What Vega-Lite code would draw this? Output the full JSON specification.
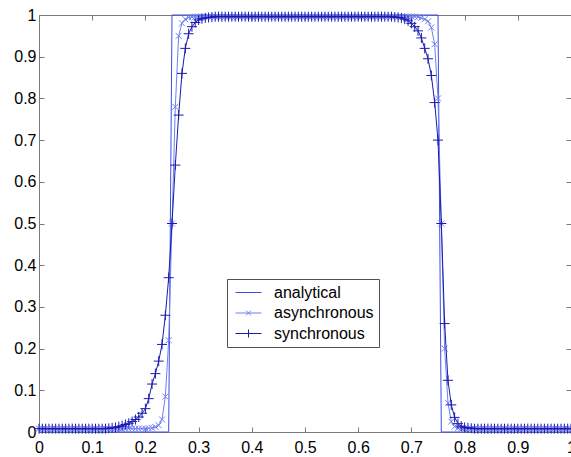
{
"$schema":"https://vega.github.io/schema/vega-lite/v6.json",
"width":532,"height":417,
"autosize":{"type":"none"},
"padding":{"left":39,"top":15,"right":0,"bottom":25},
"background":"white",
"config":{"font":"Liberation Sans","view":{"stroke":null},
 "axis":{"domainColor":"#7a7a7a","tickColor":"#7a7a7a","labelColor":"#000000","labelFont":"Liberation Sans","labelFontSize":16,"grid":false,"title":null,"labelFlush":false,"labelOverlap":false,"tickSize":-5,"format":"~g"}},
"datasets":{
"analytical":[{"x":0,"y":0},{"x":0.24375,"y":0},{"x":0.25,"y":1},{"x":0.75,"y":1},{"x":0.75625,"y":0},{"x":1,"y":0}],
"async":[{"x":0,"y":0.008},{"x":0.00625,"y":0.008},{"x":0.0125,"y":0.008},{"x":0.01875,"y":0.008},{"x":0.025,"y":0.008},{"x":0.03125,"y":0.008},{"x":0.0375,"y":0.008},{"x":0.04375,"y":0.008},{"x":0.05,"y":0.008},{"x":0.05625,"y":0.008},{"x":0.0625,"y":0.008},{"x":0.06875,"y":0.008},{"x":0.075,"y":0.008},{"x":0.08125,"y":0.008},{"x":0.0875,"y":0.008},{"x":0.09375,"y":0.008},{"x":0.1,"y":0.008},{"x":0.10625,"y":0.008},{"x":0.1125,"y":0.008},{"x":0.11875,"y":0.008},{"x":0.125,"y":0.008},{"x":0.13125,"y":0.008},{"x":0.1375,"y":0.008},{"x":0.14375,"y":0.008},{"x":0.15,"y":0.008},{"x":0.15625,"y":0.008},{"x":0.1625,"y":0.008},{"x":0.16875,"y":0.008},{"x":0.175,"y":0.008},{"x":0.18125,"y":0.008},{"x":0.1875,"y":0.008},{"x":0.19375,"y":0.008},{"x":0.2,"y":0.008},{"x":0.20625,"y":0.009},{"x":0.2125,"y":0.01},{"x":0.21875,"y":0.012},{"x":0.225,"y":0.016},{"x":0.23125,"y":0.03},{"x":0.2375,"y":0.085},{"x":0.24375,"y":0.22},{"x":0.25,"y":0.5},{"x":0.25625,"y":0.78},{"x":0.2625,"y":0.95},{"x":0.26875,"y":0.98},{"x":0.275,"y":0.99},{"x":0.28125,"y":0.994},{"x":0.2875,"y":0.995},{"x":0.29375,"y":0.996},{"x":0.3,"y":0.996},{"x":0.30625,"y":0.996},{"x":0.3125,"y":0.996},{"x":0.31875,"y":0.996},{"x":0.325,"y":0.996},{"x":0.33125,"y":0.996},{"x":0.3375,"y":0.996},{"x":0.34375,"y":0.996},{"x":0.35,"y":0.996},{"x":0.35625,"y":0.996},{"x":0.3625,"y":0.996},{"x":0.36875,"y":0.996},{"x":0.375,"y":0.996},{"x":0.38125,"y":0.996},{"x":0.3875,"y":0.996},{"x":0.39375,"y":0.996},{"x":0.4,"y":0.996},{"x":0.40625,"y":0.996},{"x":0.4125,"y":0.996},{"x":0.41875,"y":0.996},{"x":0.425,"y":0.996},{"x":0.43125,"y":0.996},{"x":0.4375,"y":0.996},{"x":0.44375,"y":0.996},{"x":0.45,"y":0.996},{"x":0.45625,"y":0.996},{"x":0.4625,"y":0.996},{"x":0.46875,"y":0.996},{"x":0.475,"y":0.996},{"x":0.48125,"y":0.996},{"x":0.4875,"y":0.996},{"x":0.49375,"y":0.996},{"x":0.5,"y":0.996},{"x":0.50625,"y":0.996},{"x":0.5125,"y":0.996},{"x":0.51875,"y":0.996},{"x":0.525,"y":0.996},{"x":0.53125,"y":0.996},{"x":0.5375,"y":0.996},{"x":0.54375,"y":0.996},{"x":0.55,"y":0.996},{"x":0.55625,"y":0.996},{"x":0.5625,"y":0.996},{"x":0.56875,"y":0.996},{"x":0.575,"y":0.996},{"x":0.58125,"y":0.996},{"x":0.5875,"y":0.996},{"x":0.59375,"y":0.996},{"x":0.6,"y":0.996},{"x":0.60625,"y":0.996},{"x":0.6125,"y":0.996},{"x":0.61875,"y":0.996},{"x":0.625,"y":0.996},{"x":0.63125,"y":0.996},{"x":0.6375,"y":0.996},{"x":0.64375,"y":0.996},{"x":0.65,"y":0.996},{"x":0.65625,"y":0.996},{"x":0.6625,"y":0.996},{"x":0.66875,"y":0.996},{"x":0.675,"y":0.996},{"x":0.68125,"y":0.996},{"x":0.6875,"y":0.996},{"x":0.69375,"y":0.996},{"x":0.7,"y":0.996},{"x":0.70625,"y":0.996},{"x":0.7125,"y":0.995},{"x":0.71875,"y":0.993},{"x":0.725,"y":0.99},{"x":0.73125,"y":0.985},{"x":0.7375,"y":0.97},{"x":0.74375,"y":0.93},{"x":0.75,"y":0.8},{"x":0.75625,"y":0.5},{"x":0.7625,"y":0.2},{"x":0.76875,"y":0.07},{"x":0.775,"y":0.025},{"x":0.78125,"y":0.013},{"x":0.7875,"y":0.01},{"x":0.79375,"y":0.009},{"x":0.8,"y":0.008},{"x":0.80625,"y":0.008},{"x":0.8125,"y":0.008},{"x":0.81875,"y":0.008},{"x":0.825,"y":0.008},{"x":0.83125,"y":0.008},{"x":0.8375,"y":0.008},{"x":0.84375,"y":0.008},{"x":0.85,"y":0.008},{"x":0.85625,"y":0.008},{"x":0.8625,"y":0.008},{"x":0.86875,"y":0.008},{"x":0.875,"y":0.008},{"x":0.88125,"y":0.008},{"x":0.8875,"y":0.008},{"x":0.89375,"y":0.008},{"x":0.9,"y":0.008},{"x":0.90625,"y":0.008},{"x":0.9125,"y":0.008},{"x":0.91875,"y":0.008},{"x":0.925,"y":0.008},{"x":0.93125,"y":0.008},{"x":0.9375,"y":0.008},{"x":0.94375,"y":0.008},{"x":0.95,"y":0.008},{"x":0.95625,"y":0.008},{"x":0.9625,"y":0.008},{"x":0.96875,"y":0.008},{"x":0.975,"y":0.008},{"x":0.98125,"y":0.008},{"x":0.9875,"y":0.008},{"x":0.99375,"y":0.008},{"x":1,"y":0.008}],
"sync":[{"x":0,"y":0.008},{"x":0.00625,"y":0.008},{"x":0.0125,"y":0.008},{"x":0.01875,"y":0.008},{"x":0.025,"y":0.008},{"x":0.03125,"y":0.008},{"x":0.0375,"y":0.008},{"x":0.04375,"y":0.008},{"x":0.05,"y":0.008},{"x":0.05625,"y":0.008},{"x":0.0625,"y":0.008},{"x":0.06875,"y":0.008},{"x":0.075,"y":0.008},{"x":0.08125,"y":0.008},{"x":0.0875,"y":0.008},{"x":0.09375,"y":0.008},{"x":0.1,"y":0.008},{"x":0.10625,"y":0.008},{"x":0.1125,"y":0.008},{"x":0.11875,"y":0.008},{"x":0.125,"y":0.008},{"x":0.13125,"y":0.009},{"x":0.1375,"y":0.01},{"x":0.14375,"y":0.011},{"x":0.15,"y":0.013},{"x":0.15625,"y":0.015},{"x":0.1625,"y":0.018},{"x":0.16875,"y":0.021},{"x":0.175,"y":0.025},{"x":0.18125,"y":0.03},{"x":0.1875,"y":0.036},{"x":0.19375,"y":0.045},{"x":0.2,"y":0.056},{"x":0.20625,"y":0.08},{"x":0.2125,"y":0.115},{"x":0.21875,"y":0.14},{"x":0.225,"y":0.17},{"x":0.23125,"y":0.21},{"x":0.2375,"y":0.28},{"x":0.24375,"y":0.37},{"x":0.25,"y":0.5},{"x":0.25625,"y":0.64},{"x":0.2625,"y":0.76},{"x":0.26875,"y":0.86},{"x":0.275,"y":0.92},{"x":0.28125,"y":0.955},{"x":0.2875,"y":0.972},{"x":0.29375,"y":0.982},{"x":0.3,"y":0.988},{"x":0.30625,"y":0.991},{"x":0.3125,"y":0.993},{"x":0.31875,"y":0.994},{"x":0.325,"y":0.995},{"x":0.33125,"y":0.996},{"x":0.3375,"y":0.996},{"x":0.34375,"y":0.996},{"x":0.35,"y":0.996},{"x":0.35625,"y":0.996},{"x":0.3625,"y":0.996},{"x":0.36875,"y":0.996},{"x":0.375,"y":0.996},{"x":0.38125,"y":0.996},{"x":0.3875,"y":0.996},{"x":0.39375,"y":0.996},{"x":0.4,"y":0.996},{"x":0.40625,"y":0.996},{"x":0.4125,"y":0.996},{"x":0.41875,"y":0.996},{"x":0.425,"y":0.996},{"x":0.43125,"y":0.996},{"x":0.4375,"y":0.996},{"x":0.44375,"y":0.996},{"x":0.45,"y":0.996},{"x":0.45625,"y":0.996},{"x":0.4625,"y":0.996},{"x":0.46875,"y":0.996},{"x":0.475,"y":0.996},{"x":0.48125,"y":0.996},{"x":0.4875,"y":0.996},{"x":0.49375,"y":0.996},{"x":0.5,"y":0.996},{"x":0.50625,"y":0.996},{"x":0.5125,"y":0.996},{"x":0.51875,"y":0.996},{"x":0.525,"y":0.996},{"x":0.53125,"y":0.996},{"x":0.5375,"y":0.996},{"x":0.54375,"y":0.996},{"x":0.55,"y":0.996},{"x":0.55625,"y":0.996},{"x":0.5625,"y":0.996},{"x":0.56875,"y":0.996},{"x":0.575,"y":0.996},{"x":0.58125,"y":0.996},{"x":0.5875,"y":0.996},{"x":0.59375,"y":0.996},{"x":0.6,"y":0.996},{"x":0.60625,"y":0.996},{"x":0.6125,"y":0.996},{"x":0.61875,"y":0.996},{"x":0.625,"y":0.996},{"x":0.63125,"y":0.996},{"x":0.6375,"y":0.996},{"x":0.64375,"y":0.996},{"x":0.65,"y":0.996},{"x":0.65625,"y":0.996},{"x":0.6625,"y":0.996},{"x":0.66875,"y":0.995},{"x":0.675,"y":0.994},{"x":0.68125,"y":0.993},{"x":0.6875,"y":0.99},{"x":0.69375,"y":0.986},{"x":0.7,"y":0.98},{"x":0.70625,"y":0.972},{"x":0.7125,"y":0.962},{"x":0.71875,"y":0.945},{"x":0.725,"y":0.92},{"x":0.73125,"y":0.895},{"x":0.7375,"y":0.855},{"x":0.74375,"y":0.79},{"x":0.75,"y":0.7},{"x":0.75625,"y":0.5},{"x":0.7625,"y":0.26},{"x":0.76875,"y":0.124},{"x":0.775,"y":0.065},{"x":0.78125,"y":0.035},{"x":0.7875,"y":0.02},{"x":0.79375,"y":0.014},{"x":0.8,"y":0.011},{"x":0.80625,"y":0.01},{"x":0.8125,"y":0.009},{"x":0.81875,"y":0.008},{"x":0.825,"y":0.008},{"x":0.83125,"y":0.008},{"x":0.8375,"y":0.008},{"x":0.84375,"y":0.008},{"x":0.85,"y":0.008},{"x":0.85625,"y":0.008},{"x":0.8625,"y":0.008},{"x":0.86875,"y":0.008},{"x":0.875,"y":0.008},{"x":0.88125,"y":0.008},{"x":0.8875,"y":0.008},{"x":0.89375,"y":0.008},{"x":0.9,"y":0.008},{"x":0.90625,"y":0.008},{"x":0.9125,"y":0.008},{"x":0.91875,"y":0.008},{"x":0.925,"y":0.008},{"x":0.93125,"y":0.008},{"x":0.9375,"y":0.008},{"x":0.94375,"y":0.008},{"x":0.95,"y":0.008},{"x":0.95625,"y":0.008},{"x":0.9625,"y":0.008},{"x":0.96875,"y":0.008},{"x":0.975,"y":0.008},{"x":0.98125,"y":0.008},{"x":0.9875,"y":0.008},{"x":0.99375,"y":0.008},{"x":1,"y":0.008}]
},
"resolve":{"axis":{"x":"independent","y":"independent"}},
"layer":[
{"data":{"name":"analytical"},"mark":{"type":"line","strokeWidth":1,"clip":false},
 "encoding":{
  "x":{"field":"x","type":"quantitative","scale":{"domain":[0,1],"nice":false,"zero":false},"axis":{"orient":"bottom","values":[0,0.1,0.2,0.3,0.4,0.5,0.6,0.7,0.8,0.9,1],"labelPadding":12}},
  "y":{"field":"y","type":"quantitative","scale":{"domain":[0,1],"nice":false,"zero":false},"axis":{"orient":"left","values":[0,0.1,0.2,0.3,0.4,0.5,0.6,0.7,0.8,0.9,1],"labelPadding":8}},
  "color":{"datum":"analytical","type":"nominal","scale":{"domain":["analytical","asynchronous","synchronous"],"range":["#3b4fe0","#6f7ff2","#1a1ab0"]},
   "legend":{"orient":"none","legendX":188,"legendY":264,"title":null,"padding":5,"strokeColor":"#505050","fillColor":"#ffffff","labelFont":"Liberation Sans","labelFontSize":16,"labelColor":"#000000","labelOffset":17,"symbolSize":256,"symbolStrokeWidth":1,"rowPadding":3.5,"symbolOffset":8,
    "encode":{"symbols":{"update":{"shape":{"signal":"datum.value==='analytical'?'M-1.625,0H1.625':datum.value==='asynchronous'?'M-1.625,0H1.625M-0.3,-0.3L0.3,0.3M-0.3,0.3L0.3,-0.3':'M-1.625,0H1.625M0,-0.5V0.5M-0.5,0H0.5'"},"fill":{"value":"transparent"},"stroke":{"scale":"color","field":"value"},"strokeWidth":{"value":1},"opacity":{"value":1}}}}}}
 }},
{"data":{"name":"async"},"mark":{"type":"line","strokeWidth":1,"clip":false},
 "encoding":{
  "x":{"field":"x","type":"quantitative","axis":{"orient":"top","labels":false,"values":[0,0.1,0.2,0.3,0.4,0.5,0.6,0.7,0.8,0.9,1]}},
  "y":{"field":"y","type":"quantitative","axis":{"orient":"right","labels":false,"values":[0,0.1,0.2,0.3,0.4,0.5,0.6,0.7,0.8,0.9,1]}},
  "color":{"datum":"asynchronous","type":"nominal"}
 }},
{"data":{"name":"async"},"mark":{"type":"point","shape":"M-1,-1L1,1M-1,1L1,-1","filled":false,"size":36,"strokeWidth":1,"opacity":1,"clip":false},
 "encoding":{
  "x":{"field":"x","type":"quantitative","axis":null},
  "y":{"field":"y","type":"quantitative","axis":null},
  "color":{"datum":"asynchronous","type":"nominal"}
 }},
{"data":{"name":"sync"},"mark":{"type":"line","strokeWidth":1,"clip":false},
 "encoding":{
  "x":{"field":"x","type":"quantitative","axis":null},
  "y":{"field":"y","type":"quantitative","axis":null},
  "color":{"datum":"synchronous","type":"nominal"}
 }},
{"data":{"name":"sync"},"mark":{"type":"point","shape":"M-1,0H1M0,-1V1","filled":false,"size":100,"strokeWidth":1,"opacity":1,"clip":false},
 "encoding":{
  "x":{"field":"x","type":"quantitative","axis":null},
  "y":{"field":"y","type":"quantitative","axis":null},
  "color":{"datum":"synchronous","type":"nominal"}
 }}
]
}
